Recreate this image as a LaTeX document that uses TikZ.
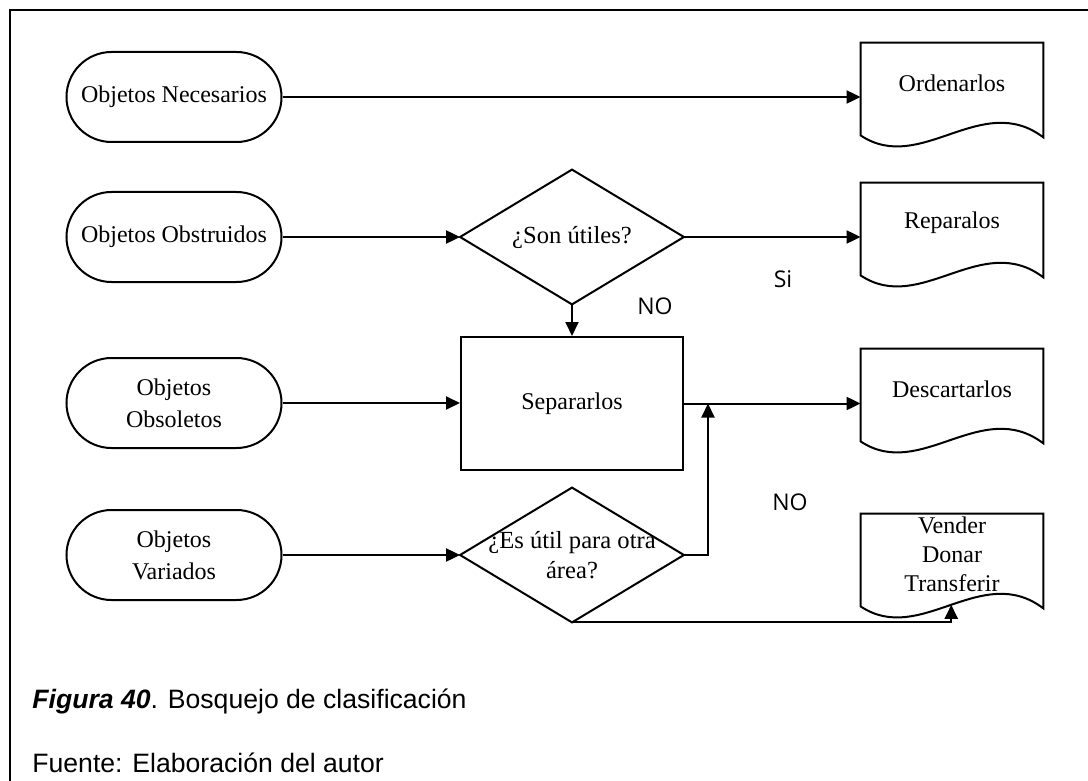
\documentclass[tikz,border=0pt]{standalone}
\usepackage{fontspec}
\setmainfont{Liberation Serif}
\newfontfamily\capfont{Liberation Sans}
\newfontfamily\tagfont{Open Sans}
\usetikzlibrary{shapes.misc,arrows.meta,calc}

% document symbol: flat top, wavy bottom; #2 names the middle of the wave
\newcommand\drawdoc[2]{%
  \draw[outline] (#1.north east) -- (#1.north west) -- ($(#1.south west)+(0,12)$)
    .. controls ($(#1.south west)+(60,52)$) and ($(#1.south east)+(-62,-33)$) ..
    coordinate[pos=0.5] (#2) ($(#1.south east)+(0,14)$) -- cycle;}

\begin{document}
\begin{tikzpicture}[x=0.5pt,y=-0.5pt,
  outline/.style={line width=1pt},
  term/.style={rounded rectangle, draw, outline, minimum width=111.5pt,
    minimum height=45pt, inner sep=2pt, align=center,
    font=\fontsize{12}{16}\selectfont},
  decision/.style={rectangle, minimum width=111.5pt, minimum height=67pt,
    inner sep=0pt, align=center, font=\fontsize{12.3}{15}\selectfont},
  procbox/.style={rectangle, draw, outline, minimum width=111pt,
    minimum height=66.5pt, font=\fontsize{12}{15}\selectfont},
  docbox/.style={rectangle, minimum width=91pt, minimum height=40pt,
    inner sep=0pt, align=center, font=\fontsize{12}{14.5}\selectfont},
  flow/.style={outline, -{Triangle[length=7pt,width=6.5pt]}},
  tag/.style={font=\tagfont\fontsize{11.5}{13}\selectfont, inner sep=0pt},
  caption/.style={font=\capfont\fontsize{13.3}{16}\selectfont, anchor=base west, inner sep=0pt}
]
\useasboundingbox (0,0) rectangle (1088,781);

% open frame
\draw[line width=1.25pt] (10,781) -- (10,10) -- (1088,10);

% start terminals
\node[term] (t1) at (174,97)  {Objetos Necesarios};
\node[term] (t2) at (174,237) {Objetos Obstruidos};
\node[term] (t3) at (174,403) {Objetos\\Obsoletos};
\node[term] (t4) at (174,555) {Objetos\\Variados};

% decisions
\node[decision] (d1) at (572,237) {¿Son útiles?};
\draw[outline] (d1.west) -- (d1.north) -- (d1.east) -- (d1.south) -- cycle;
\node[decision] (d2) at (572,555) {¿Es útil para otra\\área?};
\draw[outline] (d2.west) -- (d2.north) -- (d2.east) -- (d2.south) -- cycle;

% process
\node[procbox] (sep) at (572,403.5) {Separarlos};

% documents
\node[docbox] (doc1) at (952,83)  {Ordenarlos};
\node[docbox] (doc2) at (952,223) {Reparalos};
\node[docbox] (doc3) at (952,389) {Descartarlos};
\node[docbox] (doc4) at (952,554) {Vender\\Donar\\Transferir};
\drawdoc{doc1}{w1}
\drawdoc{doc2}{w2}
\drawdoc{doc3}{w3}
\drawdoc{doc4}{w4}

% connectors
\coordinate (j) at ($(sep.east)+(24,0)$);
\draw[flow] (t1.east) -- (t1 -| doc1.west);
\draw[flow] (t2.east) -- (d1.west);
\draw[flow] (d1.east) -- (d1 -| doc2.west);
\draw[flow] (d1.south) -- (sep.north);
\draw[flow] (t3.east) -- (t3 -| sep.west);
\draw[flow] (sep.east) -- (sep -| doc3.west);
\draw[flow] (t4.east) -- (d2.west);
\draw[flow] (d2.east) -| (j);
\draw[flow] (d2.south) -| (w4);

% branch labels
\node[tag] (si)  at (783,279) {Si};
\node[tag] (no1) at (655,306) {NO};
\node[tag] (no2) at (790,502) {NO};

% caption
\node[caption] (cap1) at (32,708) {\textbf{\textit{Figura 40}}. Bosquejo de clasificación};
\node[caption] (cap2) at (32,772) {Fuente: Elaboración del autor};
\end{tikzpicture}
\end{document}
